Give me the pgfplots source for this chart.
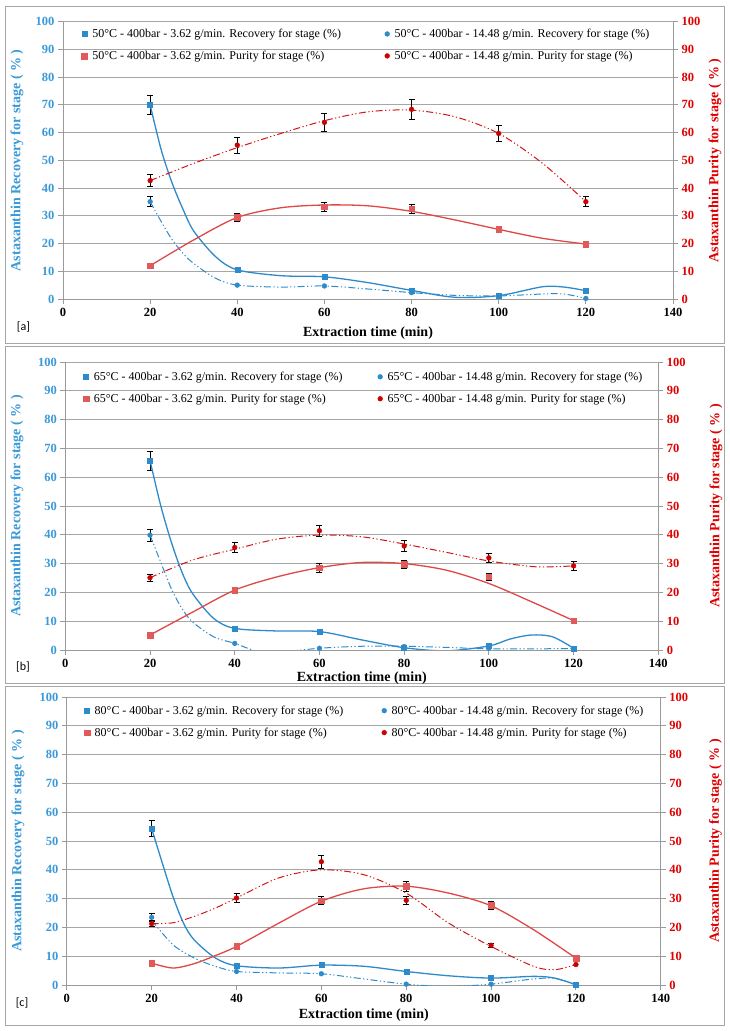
\documentclass[border=0pt]{standalone}
\usepackage{fontspec}
\setmainfont{Liberation Serif}
\newfontfamily\calibri{Carlito}
\usepackage{pgfplots}
\pgfplotsset{compat=1.18}

\definecolor{blueS}{HTML}{2E8BCB}
\definecolor{blueL}{HTML}{3A9AD9}
\definecolor{redA}{HTML}{E04848}
\definecolor{redSq}{HTML}{E05A5A}
\definecolor{redB}{HTML}{D41515}
\definecolor{redC}{HTML}{CC0000}
\definecolor{redL}{HTML}{E00000}
\definecolor{gridc}{HTML}{A6A6A6}
\definecolor{axc}{HTML}{9A9A9A}

\pgfplotsset{
 tickfont/.style={font=\bfseries\fontsize{12.5}{14}\selectfont},
 panelbase/.style={scale only axis, anchor=south west, xmin=0, xmax=140, ymin=0, ymax=100,
   ytick={0,10,...,100}, axis line style={draw=axc, line width=0.9pt},
   tick align=outside, major tick length=5pt, tick style={draw=axc, line width=0.9pt},
   /pgf/number format/assume math mode=true},
 leftax/.style={panelbase, xtick={0,20,...,140}, axis x line*=bottom, axis y line*=left,
   ymajorgrids, grid style={draw=gridc, line width=0.9pt},
   x tick label style={tickfont, text=black, yshift=-1pt},
   y tick label style={tickfont, text=blueL},
   xlabel={Extraction time (min)},
   xlabel style={font=\bfseries\fontsize{14}{16}\selectfont, anchor=center},
   ylabel={Astaxanthin Recovery for stage ( \% )},
   ylabel style={font=\bfseries\fontsize{14}{16}\selectfont, text=blueL, anchor=center},
   legend columns=2, legend cell align=left,
   legend style={draw=none, fill=none, inner sep=0pt, anchor=north west,
     font=\fontsize{12}{14}\selectfont, row sep=10pt, nodes={inner sep=1pt},
     /tikz/every odd column/.append style={column sep=4pt}}},
 rightax/.style={panelbase, axis x line=none, axis y line*=right, xtick=\empty,
   y tick label style={tickfont, text=redL},
   ylabel={Astaxanthin Purity for stage ( \% )},
   ylabel style={font=\bfseries\fontsize{14}{16}\selectfont, text=redL, anchor=center}},
 rec3m/.style={only marks, mark=square*, mark size=2.5pt, mark options={solid, fill=blueS, draw=blueS},
   legend image code/.code={\draw[##1] plot coordinates {(0pt,0pt)};}},
 rec14m/.style={only marks, mark=*, mark size=2.4pt, mark options={solid, fill=blueS, draw=blueS},
   legend image code/.code={\draw[##1] plot coordinates {(0pt,0pt)};}},
 pur3m/.style={only marks, mark=square*, mark size=2.8pt, mark options={solid, fill=redSq, draw=redSq},
   legend image code/.code={\draw[##1] plot coordinates {(0pt,0pt)};}},
 pur14m/.style={only marks, mark=*, mark size=2.4pt, mark options={solid, fill=redC, draw=redC},
   legend image code/.code={\draw[##1] plot coordinates {(0pt,0pt)};}},
 rec3c/.style={blueS, line width=1.3pt, smooth, mark=none, solid, forget plot},
 rec14c/.style={blueS, line width=1pt, smooth, mark=none, forget plot,
   dash pattern=on 7pt off 2.5pt on 1.2pt off 2.5pt on 1.2pt off 2.5pt},
 pur3c/.style={redA, line width=1.3pt, smooth, mark=none, solid, forget plot},
 pur14c/.style={redB, line width=1pt, smooth, mark=none, forget plot,
   dash pattern=on 7pt off 2.5pt on 1.2pt off 2.5pt on 1.2pt off 2.5pt},
 ebar/.style={draw=none, mark=none, forget plot, error bars/.cd, y dir=both, y explicit,
   error bar style={draw=black, solid, line width=0.8pt},
   error mark options={rotate=90, draw=black, solid, line width=0.8pt, mark size=3pt}},
}

\begin{document}
\begin{tikzpicture}
\fill[white] (0pt,0pt) rectangle (729pt,1031pt);
\draw[gridc, line width=0.9pt] (5pt,688pt) rectangle (724pt,1025pt);
\draw[gridc, line width=0.9pt] (5pt,348pt) rectangle (724pt,685pt);
\draw[gridc, line width=0.9pt] (5pt,6pt) rectangle (724pt,345pt);

% ================= Panel a =================
\begin{axis}[leftax, at={(63pt,732pt)}, width=610pt, height=277.3pt,
  xlabel style={at={(axis description cs:0.5,-0.1226)}},
  ylabel style={at={(axis description cs:-0.0754,0.5)}},
  legend style={at={(axis description cs:0.0303,0.978)}, /tikz/every even column/.append style={column sep=42.8pt}}]
\addplot[ebar] coordinates {(20,70.0) +- (0,3.5) (20,35.1) +- (0,1.8)};
\addplot[rec3c] coordinates {(20,70)(22.5,54)(25,42)(27.5,32.5)(30,24.5)(35,15.3)(40,10.5)(50,8.4)(60,8.0)(70,5.9)(80,3.1)(90,0.6)(100,1.2)(110,4.4)(115,4.3)(120,3.0)};
\addplot[rec14c] coordinates {(20,35.1)(22.5,28)(25,21.5)(27.5,16.5)(30,12.8)(35,7.5)(40,5.0)(50,4.3)(60,4.7)(70,3.6)(80,2.3)(90,1.3)(100,1.1)(110,1.8)(115,1.8)(120,0.2)};
\addplot[rec3m] coordinates {(20,70.0)(40,10.5)(60,8.0)(80,3.1)(100,1.2)(120,3.0)};
\addlegendentry{50°C - 400bar - 3.62 g/min. Recovery for stage (\%)}
\addplot[rec14m] coordinates {(20,35.1)(40,5.0)(60,4.7)(80,2.3)(100,1.1)(120,0.2)};
\addlegendentry{50°C - 400bar - 14.48 g/min. Recovery for stage (\%)}
\addlegendimage{pur3m}
\addlegendentry{50°C - 400bar - 3.62 g/min. Purity for stage (\%)}
\addlegendimage{pur14m}
\addlegendentry{50°C - 400bar - 14.48 g/min. Purity for stage (\%)}
\end{axis}
\begin{axis}[rightax, at={(63pt,732pt)}, width=610pt, height=277.3pt,
  ylabel style={at={(axis description cs:1.0689,0.5)}}]
\addplot[ebar] coordinates {(40,29.4) +- (0,1.4) (60,33.3) +- (0,1.7) (80,32.5) +- (0,1.6) (100,25.1) +- (0,1.2)
  (20,42.7) +- (0,2.1) (40,55.5) +- (0,2.9) (60,63.7) +- (0,3.3) (80,68.4) +- (0,3.5) (100,59.7) +- (0,3.0) (120,35.1) +- (0,1.8)};
\addplot[pur3c] coordinates {(20,12)(30,21.3)(40,29.4)(50,32.9)(60,33.9)(70,33.6)(80,31.6)(90,28.5)(100,25.1)(110,21.9)(120,19.8)};
\addplot[pur14c] coordinates {(20,42.7)(30,48.9)(40,54.6)(50,59.7)(60,64.3)(70,67.5)(80,68.1)(90,65.7)(100,59.7)(110,49.0)(120,35.1)};
\addplot[pur3m] coordinates {(20,12.0)(40,29.4)(60,33.3)(80,32.5)(100,25.1)(120,19.8)};
\addplot[pur14m] coordinates {(20,42.7)(40,55.5)(60,63.7)(80,68.4)(100,59.7)(120,35.1)};
\end{axis}

% ================= Panel b =================
\begin{axis}[leftax, at={(65.3pt,381pt)}, width=593pt, height=288pt,
  xlabel style={at={(axis description cs:0.5,-0.096)}},
  ylabel style={at={(axis description cs:-0.0815,0.5)}},
  legend style={at={(axis description cs:0.0298,0.970)}, /tikz/every even column/.append style={column sep=34.3pt}}]
\addplot[ebar] coordinates {(20,65.8) +- (0,3.3) (20,39.9) +- (0,2.1)};
\addplot[rec3c] coordinates {(20,65.8)(22.5,50.3)(25,37.6)(27.5,27.2)(30,19.7)(35,11.0)(40,7.5)(50,6.6)(60,6.4)(70,3.5)(80,0.8)(90,-0.3)(100,1.4)(105,3.8)(110,5.2)(115,4.6)(120,0.6)};
\addplot[rec14c] coordinates {(20,39.9)(22.5,30.6)(25,21.4)(27.5,14.5)(30,9.8)(35,4.6)(40,2.3)(45,-0.3)(50,-0.8)(60,0.6)(70,1.3)(80,1.3)(90,0.9)(100,0.4)(110,0.4)(120,0.5)};
\addplot[rec3m] coordinates {(20,65.8)(40,7.5)(60,6.4)(80,0.8)(100,1.4)(120,0.6)};
\addlegendentry{65°C - 400bar - 3.62 g/min. Recovery for stage (\%)}
\addplot[rec14m] coordinates {(20,39.9)(40,2.3)(60,0.6)(80,1.2)(100,0.6)(120,0.5)};
\addlegendentry{65°C - 400bar - 14.48 g/min. Recovery for stage (\%)}
\addlegendimage{pur3m}
\addlegendentry{65°C - 400bar - 3.62 g/min. Purity for stage (\%)}
\addlegendimage{pur14m}
\addlegendentry{65°C - 400bar - 14.48 g/min. Purity for stage (\%)}
\end{axis}
\begin{axis}[rightax, at={(65.3pt,381pt)}, width=593pt, height=288pt,
  ylabel style={at={(axis description cs:1.0973,0.5)}}]
\addplot[ebar] coordinates {(40,20.8) +- (0,0.9) (60,28.6) +- (0,1.6) (80,29.7) +- (0,1.5) (100,25.4) +- (0,1.3)
  (20,25.1) +- (0,1.2) (40,35.6) +- (0,1.8) (60,41.4) +- (0,2.0) (80,36.1) +- (0,1.8) (100,32.0) +- (0,1.6) (120,29.2) +- (0,1.5)};
\addplot[pur3c] coordinates {(20,5.2)(30,13.1)(40,20.8)(50,25.4)(60,28.6)(70,30.4)(80,30.0)(90,27.7)(100,23.1)(110,16.8)(120,10.2)};
\addplot[pur14c] coordinates {(20,25.1)(30,31.2)(40,35.0)(50,38.5)(60,39.9)(70,39.3)(80,36.8)(90,33.9)(100,30.9)(110,29.0)(115,28.9)(120,29.2)};
\addplot[pur3m] coordinates {(20,5.2)(40,20.8)(60,28.6)(80,29.7)(100,25.4)(120,10.2)};
\addplot[pur14m] coordinates {(20,25.1)(40,35.6)(60,41.4)(80,36.1)(100,32.0)(120,29.2)};
\end{axis}

% ================= Panel c =================
\begin{axis}[leftax, at={(66.8pt,46pt)}, width=594pt, height=288pt,
  xlabel style={at={(axis description cs:0.5,-0.104)}},
  ylabel style={at={(axis description cs:-0.0822,0.5)}},
  legend style={at={(axis description cs:0.0288,0.974)}, /tikz/every even column/.append style={column sep=37.4pt}}]
\addplot[ebar] coordinates {(20,54.3) +- (0,2.7) (20,23.5) +- (0,1.3)};
\addplot[rec3c] coordinates {(20,54.3)(22.5,42.4)(25,30.8)(27.5,21.5)(30,15.7)(35,9.4)(40,6.7)(50,5.9)(60,6.9)(70,6.5)(80,4.7)(90,3.2)(100,2.4)(110,3.0)(115,2.4)(120,0.1)};
\addplot[rec14c] coordinates {(20,22.5)(25,14.0)(30,9.4)(35,6.5)(40,4.7)(50,4.2)(60,3.9)(70,2.1)(80,0.3)(90,-0.5)(100,0.3)(110,2.1)(115,2.3)(120,0.0)};
\addplot[rec3m] coordinates {(20,54.3)(40,6.7)(60,6.9)(80,4.7)(100,2.4)(120,0.1)};
\addlegendentry{80°C - 400bar - 3.62 g/min. Recovery for stage (\%)}
\addplot[rec14m] coordinates {(20,23.5)(40,4.7)(60,3.9)(80,0.3)(100,0.3)(120,0.0)};
\addlegendentry{80°C- 400bar - 14.48 g/min. Recovery for stage (\%)}
\addlegendimage{pur3m}
\addlegendentry{80°C - 400bar - 3.62 g/min. Purity for stage (\%)}
\addlegendimage{pur14m}
\addlegendentry{80°C- 400bar - 14.48 g/min. Purity for stage (\%)}
\end{axis}
\begin{axis}[rightax, at={(66.8pt,46pt)}, width=594pt, height=288pt,
  ylabel style={at={(axis description cs:1.0921,0.5)}}]
\addplot[ebar] coordinates {(60,29.3) +- (0,1.3) (80,34.3) +- (0,1.7) (100,27.8) +- (0,1.4)
  (20,21.3) +- (0,1.1) (40,30.2) +- (0,1.5) (60,42.8) +- (0,2.2) (80,29.4) +- (0,1.5) (100,13.8) +- (0,0.7)};
\addplot[pur3c] coordinates {(20,7.6)(25,5.9)(30,7.4)(35,10.2)(40,13.4)(50,21.5)(60,29.1)(70,33.4)(80,34.3)(90,31.9)(100,27.5)(110,19.2)(120,9.3)};
\addplot[pur14c] coordinates {(20,21.3)(25,21.6)(30,23.8)(35,26.7)(40,30.2)(50,37.2)(60,40.0)(70,38.3)(80,31.9)(90,21.5)(100,13.4)(110,6.5)(115,5.3)(120,7.1)};
\addplot[pur3m] coordinates {(20,7.6)(40,13.4)(60,29.3)(80,34.3)(100,27.8)(120,9.3)};
\addplot[pur14m] coordinates {(20,21.3)(40,30.2)(60,42.8)(80,29.4)(100,13.8)(120,7.1)};
\end{axis}

\node[font=\calibri\fontsize{12}{14}\selectfont] at (23.5pt,704pt) {[a]};
\node[font=\calibri\fontsize{12}{14}\selectfont] at (23pt,364pt) {[b]};
\node[font=\calibri\fontsize{12}{14}\selectfont] at (22pt,28pt) {[c]};
\end{tikzpicture}
\end{document}
